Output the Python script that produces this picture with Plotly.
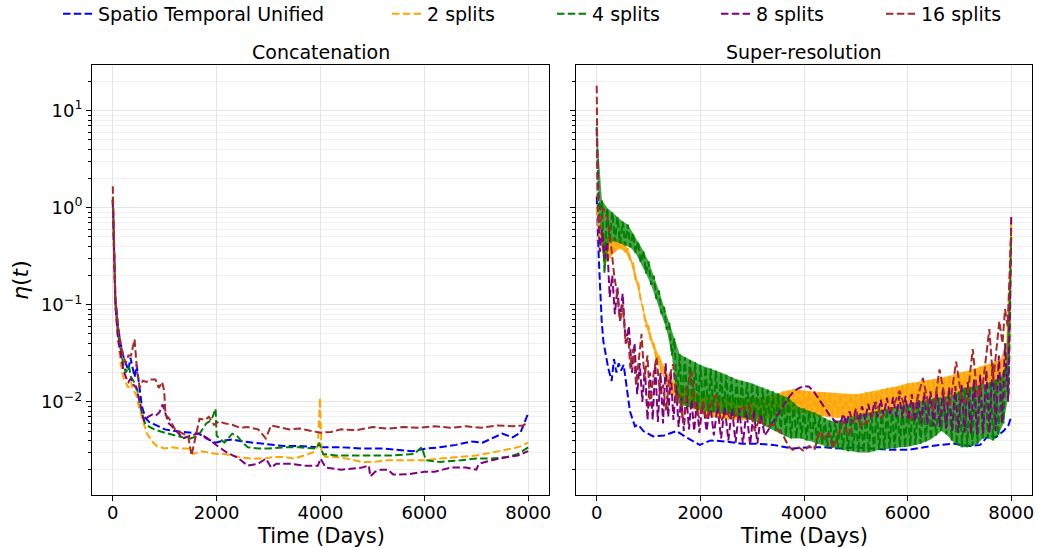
import plotly.graph_objects as go

# ---------------- Data ----------------
series_names = ["Spatio Temporal Unified", "2 splits", "4 splits", "8 splits", "16 splits"]
series_colors = ["#0000ff", "#ffa500", "#008000", "#800080", "#a52a2a"]

# Concatenation panel
cat_unified_t = [0, 25, 50, 100, 150, 200, 250, 300, 340, 380, 420, 460, 500, 560, 630, 700, 820, 1000, 1200, 1340,
                 1500, 1660, 1800, 1980, 2150, 2300, 2500, 2700, 3000, 3300, 3600, 4000, 4400, 4800, 5200, 5500, 5770,
                 6030, 6300, 6610, 6900, 7120, 7300, 7500, 7700, 7850, 7990]
cat_unified_v = [1.2, 0.35, 0.12, 0.06, 0.04, 0.03, 0.025, 0.021, 0.0285, 0.022, 0.018, 0.024, 0.016, 0.009, 0.0068,
                 0.0062, 0.0058, 0.0052, 0.005, 0.0049, 0.0048, 0.0047, 0.0042, 0.0038, 0.0040, 0.0041, 0.0039, 0.0038,
                 0.0036, 0.0035, 0.0035, 0.0034, 0.0034, 0.0033, 0.0033, 0.0032, 0.0031, 0.0033, 0.0034, 0.0036, 0.0039,
                 0.0038, 0.0042, 0.0047, 0.0043, 0.0048, 0.0074]

cat_s2_t = [0, 25, 50, 100, 150, 200, 250, 300, 350, 400, 450, 500, 566, 650, 758, 850, 1000, 1150, 1300, 1450, 1550,
            1700, 1850, 2000, 2150, 2300, 2500, 2700, 2900, 3100, 3300, 3500, 3700, 3850, 3950, 3990, 4020, 4100, 4300,
            4500, 4800, 5000, 5300, 5600, 6000, 6300, 6600, 7000, 7300, 7600, 7800, 8000]
cat_s2_v = [1.2, 0.3, 0.1, 0.045, 0.025, 0.018, 0.016, 0.014, 0.016, 0.013, 0.012, 0.009, 0.0068, 0.0048, 0.0039,
            0.0035, 0.0033, 0.0034, 0.0033, 0.0033, 0.0029, 0.0031, 0.0030, 0.0029, 0.0029, 0.0028, 0.00266, 0.0026,
            0.0026, 0.0027, 0.0027, 0.0026, 0.0028, 0.003, 0.0035, 0.011, 0.003, 0.0027, 0.0027, 0.0026, 0.0024, 0.0024,
            0.0025, 0.0025, 0.0025, 0.0026, 0.0027, 0.0028, 0.0030, 0.0032, 0.0034, 0.0038]

cat_s4_t = [0, 25, 50, 100, 150, 200, 250, 310, 350, 410, 470, 530, 630, 700, 800, 1000, 1200, 1350, 1500, 1650, 1800,
            1900, 1980, 2000, 2050, 2150, 2300, 2400, 2500, 2600, 2800, 3000, 3300, 3600, 3900, 3980, 4050, 4300, 4700,
            5000, 5400, 5800, 5950, 6030, 6300, 6700, 7000, 7300, 7600, 7800, 8000]
cat_s4_v = [1.3, 0.3, 0.1, 0.05, 0.035, 0.025, 0.02, 0.0234, 0.018, 0.016, 0.0135, 0.009, 0.0058, 0.0055, 0.0052,
            0.0048, 0.0045, 0.0043, 0.0042, 0.0045, 0.006, 0.0065, 0.0085, 0.0045, 0.0042, 0.0038, 0.0047, 0.0044,
            0.0038, 0.0034, 0.0033, 0.0033, 0.0034, 0.0034, 0.0033, 0.0037, 0.0029, 0.0028, 0.0028, 0.0028, 0.0028,
            0.0029, 0.0034, 0.0025, 0.0024, 0.0025, 0.0026, 0.0026, 0.0027, 0.0029, 0.0034]

cat_s8_t = [0, 25, 50, 100, 150, 200, 250, 300, 350, 400, 450, 520, 600, 680, 758, 830, 900, 960, 1000, 1080, 1200,
            1350, 1500, 1650, 1800, 1900, 2050, 2200, 2400, 2600, 2800, 2950, 3050, 3150, 3400, 3700, 3950, 4000, 4100,
            4400, 4800, 4930, 4960, 5050, 5160, 5300, 5400, 5700, 6000, 6200, 6500, 6800, 7000, 7050, 7300, 7600, 7800,
            8000]
cat_s8_v = [1.2, 0.3, 0.1, 0.045, 0.03, 0.022, 0.018, 0.016, 0.0175, 0.015, 0.014, 0.01, 0.0063, 0.007, 0.0074,
            0.0072, 0.0078, 0.0094, 0.008, 0.006, 0.0052, 0.0042, 0.0045, 0.0047, 0.0043, 0.0039, 0.0034, 0.003,
            0.00266, 0.0022, 0.0023, 0.0026, 0.0021, 0.0023, 0.0023, 0.0022, 0.0022, 0.0026, 0.0021, 0.002, 0.0021,
            0.0022, 0.0017, 0.0019, 0.0020, 0.0020, 0.00178, 0.0018, 0.0019, 0.0019, 0.0021, 0.0021, 0.0020, 0.0023,
            0.0025, 0.0027, 0.0028, 0.0031]

cat_s16_t = [0, 25, 50, 100, 150, 200, 250, 300, 350, 420, 470, 520, 580, 650, 720, 823, 887, 951, 990, 1016, 1080,
             1200, 1350, 1450, 1517, 1600, 1670, 1780, 1850, 1950, 2050, 2150, 2300, 2450, 2600, 2800, 2945, 3050, 3200,
             3400, 3600, 3800, 4000, 4200, 4400, 4700, 5000, 5300, 5600, 5900, 6200, 6500, 6800, 7100, 7400, 7700, 7900,
             8000]
cat_s16_v = [1.66, 0.35, 0.12, 0.06, 0.04, 0.03, 0.025, 0.03, 0.03, 0.044, 0.02, 0.014, 0.0165, 0.016, 0.017, 0.017,
             0.0139, 0.016, 0.013, 0.0073, 0.0068, 0.0052, 0.0047, 0.0045, 0.0028, 0.0045, 0.0067, 0.0065, 0.007,
             0.0058, 0.0063, 0.006, 0.0058, 0.0054, 0.0055, 0.0052, 0.0042, 0.0057, 0.0055, 0.0052, 0.0053, 0.0050,
             0.0048, 0.0049, 0.0052, 0.0051, 0.0055, 0.0053, 0.0055, 0.0054, 0.0056, 0.0054, 0.0056, 0.0054, 0.0057,
             0.0056, 0.0057, 0.0062]

# Super-resolution panel
sr_unified_t = [0, 40, 96, 128, 224, 288, 333, 380, 423, 470, 520, 577, 641, 737, 800, 900, 1090, 1300, 1538, 1731,
                1987, 2200, 2500, 2800, 3100, 3400, 3782, 4100, 4400, 4692, 5000, 5300, 5654, 6000, 6300, 6615, 6900,
                7200, 7400, 7577, 7700, 7850, 7950, 8000]
sr_unified_v = [1.3, 0.3, 0.068, 0.042, 0.022, 0.0164, 0.0276, 0.02, 0.025, 0.021, 0.024, 0.014, 0.008, 0.0056,
                0.0058, 0.005, 0.0044, 0.0045, 0.005, 0.0043, 0.0036, 0.004, 0.0039, 0.0037, 0.0037, 0.0036, 0.0033,
                0.0034, 0.0034, 0.0033, 0.0034, 0.0033, 0.0032, 0.0032, 0.0034, 0.0036, 0.0037, 0.0035, 0.0036, 0.0046,
                0.0043, 0.005, 0.0058, 0.0071]

# rapidly oscillating series: upper swings (days 0,100,...,8000) and lower swings (days 50,150,...,7950)
sr_peak_t = list(range(0, 8001, 100))
sr_trough_t = list(range(50, 7951, 100))
sr_s2_peak = [1.0, 0.6, 0.5, 0.48, 0.47, 0.45, 0.38, 0.27, 0.17, 0.09,
              0.06, 0.04, 0.03, 0.023, 0.018, 0.016, 0.015, 0.014, 0.013, 0.0125,
              0.012, 0.0118, 0.0115, 0.0112, 0.011, 0.011, 0.011, 0.011, 0.011, 0.011,
              0.011, 0.011, 0.0112, 0.0115, 0.0118, 0.0122, 0.0128, 0.0132, 0.0135, 0.0133,
              0.013, 0.0129, 0.0128, 0.0127, 0.0125, 0.0124, 0.0123, 0.0121, 0.012, 0.012,
              0.012, 0.0122, 0.0125, 0.0127, 0.013, 0.0134, 0.0138, 0.0141, 0.0145, 0.015,
              0.0155, 0.0157, 0.016, 0.0163, 0.0167, 0.017, 0.0175, 0.018, 0.0185, 0.019,
              0.02, 0.0205, 0.021, 0.022, 0.023, 0.024, 0.025, 0.026, 0.028, 0.04,
              0.8]
sr_s2_trough = [0.5, 0.26, 0.3, 0.35, 0.38, 0.35, 0.28, 0.18, 0.11, 0.06,
                0.04, 0.028, 0.02, 0.015, 0.012, 0.011, 0.0095, 0.009, 0.0085, 0.008,
                0.0075, 0.0072, 0.007, 0.0068, 0.0067, 0.0066, 0.0065, 0.0065, 0.0065, 0.0065,
                0.0066, 0.0067, 0.0068, 0.0069, 0.007, 0.0072, 0.0075, 0.0077, 0.0078, 0.0077,
                0.0075, 0.0073, 0.0072, 0.0071, 0.007, 0.0069, 0.0068, 0.0068, 0.0068, 0.0068,
                0.0069, 0.007, 0.0072, 0.0074, 0.0076, 0.0079, 0.0082, 0.0085, 0.0087, 0.009,
                0.0092, 0.0094, 0.0096, 0.0098, 0.01, 0.0102, 0.0105, 0.0107, 0.011, 0.0115,
                0.012, 0.0123, 0.0127, 0.013, 0.0135, 0.014, 0.0145, 0.015, 0.016, 0.025]
sr_s4_peak = [6.8, 1.2, 1.0, 0.9, 0.8, 0.72, 0.67, 0.55, 0.45, 0.36,
              0.28, 0.2, 0.14, 0.095, 0.065, 0.045, 0.031, 0.029, 0.027, 0.0255,
              0.024, 0.023, 0.022, 0.021, 0.020, 0.019, 0.018, 0.017, 0.0165, 0.016,
              0.0155, 0.0147, 0.014, 0.0134, 0.0128, 0.0122, 0.0116, 0.011, 0.0098, 0.0088,
              0.0085, 0.0081, 0.0078, 0.0073, 0.0068, 0.0064, 0.0064, 0.0065, 0.0068, 0.007,
              0.0072, 0.0074, 0.0075, 0.0078, 0.008, 0.0083, 0.0085, 0.0088, 0.009, 0.0092,
              0.0095, 0.0097, 0.01, 0.0103, 0.0106, 0.0108, 0.011, 0.0112, 0.0115, 0.0118,
              0.013, 0.014, 0.0142, 0.0145, 0.0148, 0.015, 0.016, 0.017, 0.018, 0.025,
              0.5]
sr_s4_trough = [0.8, 0.21, 0.45, 0.45, 0.43, 0.41, 0.39, 0.34, 0.27, 0.21,
                0.16, 0.115, 0.08, 0.055, 0.03, 0.0098, 0.0092, 0.0089, 0.0086, 0.0083,
                0.0081, 0.0079, 0.0078, 0.0076, 0.0075, 0.0074, 0.0072, 0.0069, 0.0068, 0.0066,
                0.0063, 0.006, 0.0057, 0.0053, 0.005, 0.0047, 0.0044, 0.0042, 0.0042, 0.0042,
                0.004, 0.0039, 0.0037, 0.0036, 0.0034, 0.0034, 0.0033, 0.0032, 0.0031, 0.0031,
                0.003, 0.003, 0.003, 0.0031, 0.0032, 0.0032, 0.0033, 0.0033, 0.0034, 0.0034,
                0.0035, 0.0036, 0.0037, 0.0039, 0.0041, 0.0045, 0.005, 0.0046, 0.004, 0.0036,
                0.0034, 0.0034, 0.0035, 0.0037, 0.0042, 0.0042, 0.004, 0.0045, 0.006, 0.012]

sr_s8_t = [0, 30, 60, 100, 150, 200, 250, 300, 350, 400, 450, 500, 560, 620, 680, 730, 780, 830, 880, 930, 980, 1030,
           1080, 1130, 1180, 1230, 1280, 1330, 1380, 1430, 1480, 1530, 1580, 1630, 1680, 1730, 1780, 1830, 1880, 1930,
           1980, 2050, 2120, 2190, 2260, 2330, 2400, 2470, 2540, 2610, 2680, 2750, 2820, 2890, 2960, 3030, 3100, 3170,
           3240, 3300, 3400, 3500, 3600, 3700, 3800, 3900, 4000, 4100, 4200, 4300, 4400, 4500, 4600, 4700, 4760, 4820,
           4880, 4940, 5000, 5060, 5120, 5180, 5240, 5300, 5360, 5420, 5480, 5540, 5600, 5660, 5720, 5780, 5840, 5900,
           5960, 6020, 6080, 6140, 6200, 6260, 6320, 6380, 6440, 6500, 6560, 6620, 6680, 6740, 6800, 6860, 6920, 6980,
           7040, 7100, 7160, 7220, 7280, 7340, 7400, 7460, 7520, 7580, 7640, 7700, 7760, 7820, 7880, 7940, 8000]
sr_s8_v = [6.5, 0.8, 0.35, 0.6, 0.3, 0.45, 0.12, 0.2, 0.08, 0.15, 0.068, 0.13, 0.04, 0.06, 0.02, 0.04, 0.012, 0.025,
           0.01, 0.022, 0.0065, 0.02, 0.0065, 0.024, 0.0062, 0.02, 0.006, 0.025, 0.007, 0.02, 0.0065, 0.015, 0.0055,
           0.011, 0.005, 0.012, 0.0052, 0.0105, 0.005, 0.0098, 0.0048, 0.01, 0.005, 0.0095, 0.0045, 0.009, 0.0042,
           0.0088, 0.004, 0.0085, 0.0038, 0.0085, 0.0037, 0.008, 0.0036, 0.0082, 0.0037, 0.0075, 0.0045, 0.005, 0.0062,
           0.0075, 0.009, 0.011, 0.0128, 0.0138, 0.0145, 0.0143, 0.0125, 0.0105, 0.0088, 0.0072, 0.0063, 0.006, 0.0075,
           0.0058, 0.008, 0.006, 0.0085, 0.0063, 0.009, 0.0065, 0.0095, 0.0068, 0.01, 0.007, 0.0105, 0.0072, 0.011,
           0.0072, 0.0112, 0.007, 0.0115, 0.0068, 0.0115, 0.0065, 0.012, 0.0062, 0.012, 0.006, 0.0125, 0.0058, 0.0128,
           0.0056, 0.013, 0.0055, 0.0135, 0.0053, 0.014, 0.005, 0.0145, 0.0048, 0.015, 0.0048, 0.016, 0.0047, 0.017,
           0.0046, 0.019, 0.0047, 0.021, 0.0048, 0.025, 0.005, 0.03, 0.006, 0.04, 0.01, 0.85]

sr_s16_t = [0, 20, 60, 120, 205, 260, 333, 400, 449, 500, 560, 609, 650, 700, 760, 820, 865, 920, 980, 1030, 1100,
            1154, 1220, 1280, 1340, 1400, 1474, 1540, 1600, 1667, 1750, 1827, 1900, 1980, 2050, 2120, 2200, 2308, 2400,
            2500, 2600, 2700, 2800, 2942, 3050, 3150, 3250, 3400, 3590, 3700, 3782, 3900, 4000, 4100, 4200, 4308, 4400,
            4480, 4557, 4650, 4756, 4850, 4900, 5013, 5100, 5200, 5300, 5397, 5500, 5600, 5700, 5846, 5950, 6050, 6150,
            6295, 6400, 6500, 6615, 6750, 6820, 6936, 7050, 7150, 7256, 7350, 7450, 7577, 7650, 7769, 7830, 7880, 7930,
            8000]
sr_s16_v = [18.0, 1.0, 0.6, 1.0, 0.8, 0.5, 0.21, 0.12, 0.068, 0.1, 0.04, 0.046, 0.022, 0.035, 0.015, 0.03, 0.05,
            0.0176, 0.03, 0.009, 0.02, 0.029, 0.012, 0.015, 0.008, 0.018, 0.0244, 0.01, 0.012, 0.006, 0.014, 0.021,
            0.009, 0.0068, 0.01, 0.0065, 0.0095, 0.0119, 0.0063, 0.0079, 0.0065, 0.0075, 0.0085, 0.0093, 0.005, 0.0068,
            0.0055, 0.0058, 0.0046, 0.0035, 0.0032, 0.0034, 0.0031, 0.0035, 0.0032, 0.005, 0.0042, 0.0048, 0.0033,
            0.0045, 0.0063, 0.0045, 0.005, 0.0079, 0.0055, 0.0062, 0.0065, 0.01, 0.0068, 0.008, 0.0085, 0.013, 0.0085,
            0.0065, 0.009, 0.0176, 0.0095, 0.0082, 0.0216, 0.009, 0.0095, 0.026, 0.01, 0.0105, 0.035, 0.011, 0.015,
            0.056, 0.016, 0.068, 0.04, 0.09, 0.06, 0.6]

panel_titles = ["Concatenation", "Super-resolution"]
x_title = "Time (Days)"
y_title = "<i>η</i>(<i>t</i>)"
x_ticks = [0, 2000, 4000, 6000, 8000]
y_major = [0.01, 0.1, 1, 10]
y_major_text = ["10<sup>−2</sup>", "10<sup>−1</sup>", "10<sup>0</sup>", "10<sup>1</sup>"]
y_minor = [m * 10 ** e for e in (-3, -2, -1, 0, 1) for m in range(2, 10)]


def interleave(pt, pv, tt, tv):
    """Merge the upper and lower swings of an oscillating series in time order."""
    pts = sorted(list(zip(pt, pv)) + list(zip(tt, tv)))
    return [p[0] for p in pts], [p[1] for p in pts]


sr_s2_t, sr_s2_v = interleave(sr_peak_t, sr_s2_peak, sr_trough_t, sr_s2_trough)
sr_s4_t, sr_s4_v = interleave(sr_peak_t, sr_s4_peak, sr_trough_t, sr_s4_trough)

concat = [(cat_unified_t, cat_unified_v), (cat_s2_t, cat_s2_v), (cat_s4_t, cat_s4_v),
          (cat_s8_t, cat_s8_v), (cat_s16_t, cat_s16_v)]
superres = [(sr_unified_t, sr_unified_v), (sr_s2_t, sr_s2_v), (sr_s4_t, sr_s4_v),
            (sr_s8_t, sr_s8_v), (sr_s16_t, sr_s16_v)]
bands = {1: (sr_s2_peak, sr_s2_trough, "rgba(255,165,0,0.85)"),
         2: (sr_s4_peak, sr_s4_trough, "rgba(0,128,0,0.72)")}

# ---------------- Figure ----------------
W, H = 1038, 548
fig = go.Figure()
dash = "7.5px,3.3px"
legend_text_px = [99, 428, 593, 757, 922]
legend_ids = ["legend", "legend2", "legend3", "legend4", "legend5"]

for i, name in enumerate(series_names):
    t, v = concat[i]
    fig.add_trace(go.Scatter(x=t, y=v, mode="lines", name=name, legend=legend_ids[i],
                             line=dict(color=series_colors[i], width=2, dash=dash),
                             xaxis="x", yaxis="y", showlegend=True))
for i, name in enumerate(series_names):
    if i in bands:
        pk, tr, fc = bands[i]
        fig.add_trace(go.Scatter(x=sr_peak_t + sr_trough_t[::-1], y=pk + tr[::-1], mode="lines",
                                 fill="toself", fillcolor=fc, line=dict(width=0), hoverinfo="skip",
                                 xaxis="x2", yaxis="y2", showlegend=False))
    t, v = superres[i]
    fig.add_trace(go.Scatter(x=t, y=v, mode="lines", name=name,
                             line=dict(color=series_colors[i], width=2, dash=dash),
                             xaxis="x2", yaxis="y2", showlegend=False))

font = "DejaVu Sans, sans-serif"
grid_major = "#e4e4e4"
grid_minor = "#f0f0f0"
xcommon = dict(range=[-400, 8400], tickvals=x_ticks, ticks="outside", ticklen=5, tickcolor="black",
               showline=True, linecolor="black", linewidth=1, mirror=True, showgrid=True,
               gridcolor=grid_major, gridwidth=1, zeroline=False, ticklabelstandoff=-4,
               tickfont=dict(family=font, size=18, color="black"))
ycommon = dict(type="log", range=[-2.96, 1.47], tickmode="array", tickvals=y_major, ticks="outside",
               ticklen=5, tickcolor="black", showline=True, linecolor="black", linewidth=1, mirror=True,
               showgrid=True, gridcolor=grid_major, gridwidth=1, zeroline=False,
               domain=[1 - 495 / H, 1 - 65 / H],
               minor=dict(tickmode="array", tickvals=y_minor, ticks="outside", ticklen=3, tickcolor="black",
                          showgrid=True, gridcolor=grid_minor, gridwidth=1),
               tickfont=dict(family=font, size=18, color="black"))

legends = {}
for i, lid in enumerate(legend_ids):
    legends[lid] = dict(x=(legend_text_px[i] - 41) / W, xanchor="left", y=1 - 14 / H, yanchor="middle",
                        orientation="h", bgcolor="rgba(0,0,0,0)", borderwidth=0,
                        font=dict(family=font, size=19, color="black"))

fig.update_layout(
    width=W, height=H, margin=dict(l=0, r=0, t=0, b=0, autoexpand=False),
    paper_bgcolor="white", plot_bgcolor="white",
    xaxis=dict(domain=[92 / W, 549 / W], anchor="y", **xcommon),
    xaxis2=dict(domain=[576 / W, 1032 / W], anchor="y2", **xcommon),
    yaxis=dict(anchor="x", ticktext=y_major_text, showticklabels=True, **ycommon),
    yaxis2=dict(anchor="x2", matches="y", showticklabels=False, **ycommon),
    **legends,
    annotations=[
        dict(text=panel_titles[0], x=(92 + 549) / 2 / W, y=1 - 52 / H, xref="paper", yref="paper",
             xanchor="center", yanchor="middle", showarrow=False, font=dict(family=font, size=19, color="black")),
        dict(text=panel_titles[1], x=(576 + 1032) / 2 / W, y=1 - 52 / H, xref="paper", yref="paper",
             xanchor="center", yanchor="middle", showarrow=False, font=dict(family=font, size=19, color="black")),
        dict(text=x_title, x=(92 + 549) / 2 / W, y=1 - 536 / H, xref="paper", yref="paper",
             xanchor="center", yanchor="middle", showarrow=False, font=dict(family=font, size=21, color="black")),
        dict(text=x_title, x=(576 + 1032) / 2 / W, y=1 - 536 / H, xref="paper", yref="paper",
             xanchor="center", yanchor="middle", showarrow=False, font=dict(family=font, size=21, color="black")),
        dict(text=y_title, x=20 / W, y=1 - 280 / H, xref="paper", yref="paper", textangle=-90,
             xanchor="center", yanchor="middle", showarrow=False, font=dict(family=font, size=22, color="black")),
    ],
)

fig.write_html("out.html")
